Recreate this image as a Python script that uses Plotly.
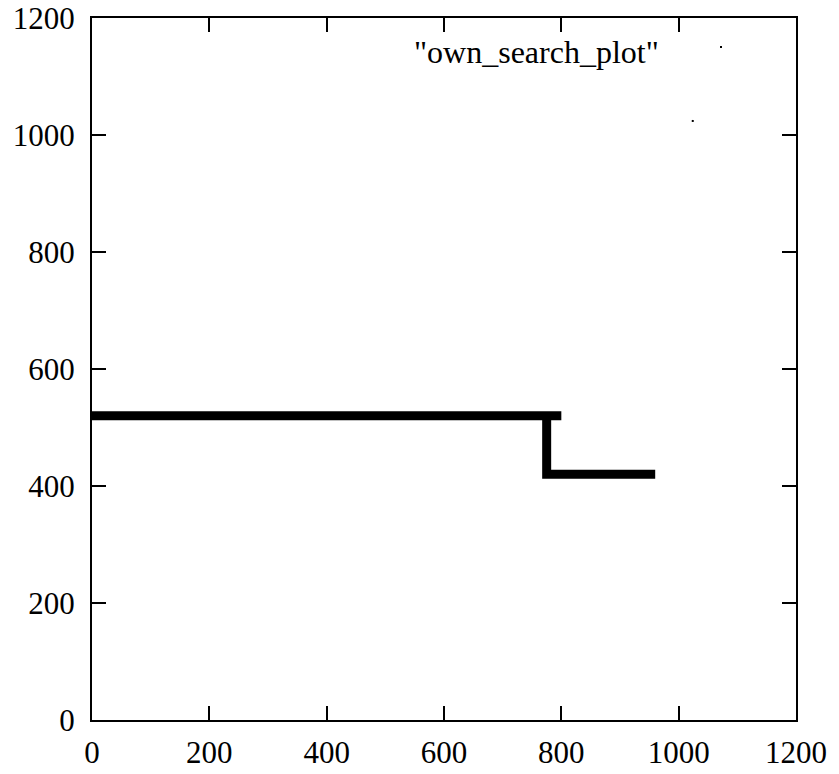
import plotly.graph_objects as go

# Data
path_x = [0, 800, None, 775, 775, 960]
path_y = [520, 520, None, 520, 420, 420]
dot_x = [1024]
dot_y = [1024]
ticks = [0, 200, 400, 600, 800, 1000, 1200]
series_name = '"own_search_plot"'

FONT = "Liberation Serif"

fig = go.Figure()
fig.add_trace(go.Scatter(x=path_x, y=path_y, mode="lines",
                         line=dict(color="black", width=9),
                         connectgaps=False, showlegend=False, hoverinfo="skip"))
fig.add_trace(go.Scatter(x=dot_x, y=dot_y, mode="markers",
                         marker=dict(color="black", size=2, symbol="square"),
                         showlegend=False, hoverinfo="skip"))

axis_common = dict(range=[0, 1200], tickvals=ticks, ticktext=[str(t) for t in ticks],
                   ticks="inside", ticklen=14, tickwidth=1.5, tickcolor="black",
                   showline=True, linecolor="black", linewidth=2, mirror="ticks",
                   showgrid=False, zeroline=False, automargin=False,
                   tickfont=dict(family=FONT, size=31, color="black"))

fig.update_layout(
    width=839, height=774,
    margin=dict(l=92, r=43, t=18, b=54),
    plot_bgcolor="white", paper_bgcolor="white",
    xaxis=dict(**axis_common, ticklabelstandoff=4),
    yaxis=dict(**axis_common, ticklabelstandoff=9),
    showlegend=False,
)

# gnuplot-style key: text with a dot sample to its right
fig.add_annotation(xref="paper", yref="paper", x=(661 - 92) / 704, y=(720 - 52) / 702,
                   text=series_name, showarrow=False, xanchor="right", yanchor="middle",
                   font=dict(family=FONT, size=32, color="black"))
fig.add_shape(type="rect", xref="paper", yref="paper",
              x0=(720 - 92) / 704, x1=(722 - 92) / 704,
              y0=(720 - 48) / 702, y1=(720 - 46) / 702,
              fillcolor="black", line=dict(width=0))

fig.write_html("out.html")
